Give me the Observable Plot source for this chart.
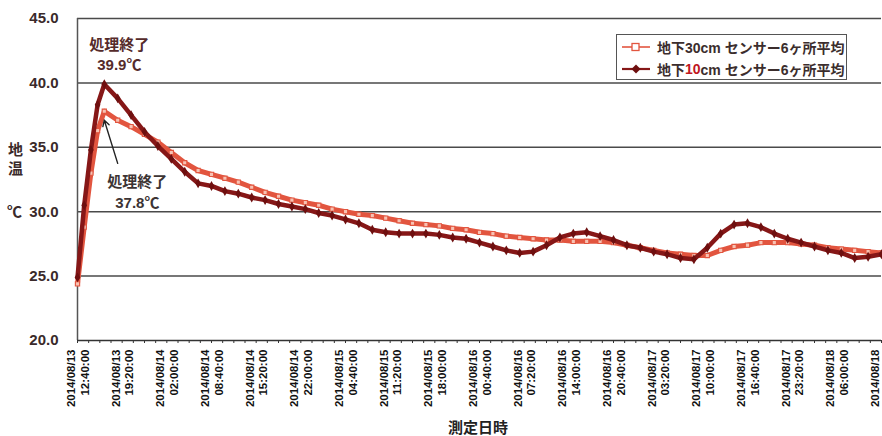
<!DOCTYPE html>
<html>
<head>
<meta charset="utf-8">
<script src="https://cdn.jsdelivr.net/npm/d3@7"></script>
<script src="https://cdn.jsdelivr.net/npm/@observablehq/plot@0.6"></script>
<style>
  body { margin: 0; background: #fff; }
  #wrap { position: relative; width: 882px; height: 436px; overflow: hidden; background: #fff;
          font-family: "Liberation Sans", "Noto Sans CJK JP", sans-serif; }
  .ylab { position: absolute; font-weight: bold; font-size: 15px; color: #3a2a2a;
          font-family: "Noto Sans CJK JP", sans-serif; line-height: 15px; }
  .xlab { position: absolute; font-weight: bold; font-size: 15px; color: #222; line-height: 15px;
          font-family: "Noto Sans CJK JP", sans-serif; }
  #legend { position: absolute; left: 616px; top: 34px; width: 229px; height: 44px;
            border: 1.5px solid #555; background: #fff; }
  .row { position: absolute; left: 4px; height: 20px; display: flex; align-items: center;
         font-weight: bold; font-size: 14px; color: #3b2d2d; white-space: nowrap;
         font-family: "Liberation Sans", "Noto Sans CJK JP", sans-serif; }
  .row svg { margin-right: 6px; }
  .red { color: #c0161e; }
</style>
</head>
<body>
<div id="wrap"></div>
<script>
// ---- data ----
const startLabel = "2014/08/13 12:40:00";
const hoursFromStart = [0, 1, 2, 3, 4,
  6, 8, 10, 12, 14, 16, 18, 20, 22, 24, 26, 28, 30, 32, 34, 36, 38, 40,
  42, 44, 46, 48, 50, 52, 54, 56, 58, 60, 62, 64, 66, 68, 70, 72, 74, 76, 78, 80,
  82, 84, 86, 88, 90, 92, 94, 96, 98, 100, 102, 104, 106, 108, 110, 112, 114, 116, 118, 120];
const depth30 = [24.4, 28.8, 33.0, 36.3, 37.8,
  37.1, 36.6, 36.0, 35.4, 34.6, 33.8, 33.2, 32.9, 32.6, 32.3, 31.9, 31.5, 31.2, 30.9, 30.7, 30.5, 30.2, 30.0,
  29.8, 29.7, 29.5, 29.3, 29.1, 29.0, 28.9, 28.7, 28.6, 28.4, 28.3, 28.1, 28.0, 27.9, 27.8, 27.8, 27.7, 27.7, 27.7, 27.6,
  27.4, 27.2, 27.0, 26.8, 26.7, 26.6, 26.6, 27.0, 27.3, 27.4, 27.6, 27.6, 27.6, 27.5, 27.4, 27.2, 27.1, 27.0, 26.9, 26.8];
const depth10 = [24.9, 30.5, 34.8, 38.3, 39.9,
  38.8, 37.5, 36.2, 35.1, 34.1, 33.1, 32.2, 32.0, 31.6, 31.4, 31.1, 30.9, 30.6, 30.4, 30.2, 29.9, 29.7, 29.4,
  29.1, 28.6, 28.4, 28.3, 28.3, 28.3, 28.2, 28.0, 27.9, 27.6, 27.3, 27.0, 26.8, 26.9, 27.4, 28.0, 28.3, 28.4, 28.1, 27.8,
  27.4, 27.2, 26.9, 26.7, 26.4, 26.3, 27.2, 28.3, 29.0, 29.1, 28.8, 28.3, 27.9, 27.6, 27.3, 27.0, 26.8, 26.4, 26.5, 26.7];
const xTickLabels = [
  "2014/08/13 12:40:00", "2014/08/13 19:20:00", "2014/08/14 02:00:00", "2014/08/14 08:40:00",
  "2014/08/14 15:20:00", "2014/08/14 22:00:00", "2014/08/15 04:40:00", "2014/08/15 11:20:00",
  "2014/08/15 18:00:00", "2014/08/16 00:40:00", "2014/08/16 07:20:00", "2014/08/16 14:00:00",
  "2014/08/16 20:40:00", "2014/08/17 03:20:00", "2014/08/17 10:00:00", "2014/08/17 16:40:00",
  "2014/08/17 23:20:00", "2014/08/18 06:00:00", "2014/08/18 12:40:00"];
const yTicks = [20, 25, 30, 35, 40, 45];
const seriesNames = ["地下30cm センサー6ヶ所平均", "地下10cm センサー6ヶ所平均"];
const peakLabels = ["処理終了\n37.8℃", "処理終了\n39.9℃"];
const yTitle = ["地", "温", "℃"];
const xTitle = "測定日時";

// ---- helpers ----
function parseLabel(s) {
  const [d, t] = s.split(" ");
  const [Y, M, D] = d.split("/").map(Number);
  const [h, m, sec] = t.split(":").map(Number);
  return new Date(Date.UTC(Y, M - 1, D, h, m, sec));
}
const t0 = parseLabel(startLabel);
const toTime = h => new Date(+t0 + h * 3600e3);
const xTicks = xTickLabels.map(parseLabel);
const minorTicks = d3.range(0, 121, 100 / 60).map(toTime);
const labelOf = new Map(xTicks.map((d, i) => [+d, xTickLabels[i].replace(" ", "\n")]));

const rows30 = hoursFromStart.map((h, i) => ({t: toTime(h), v: depth30[i]}));
const rows10 = hoursFromStart.map((h, i) => ({t: toTime(h), v: depth10[i]}));
const p30 = rows30[d3.maxIndex(rows30, d => d.v)];
const p10 = rows10[d3.maxIndex(rows10, d => d.v)];

const c30 = "#e2553f", c30fill = "#f7c2b3";
const c10 = "#861717";

const chart = Plot.plot({
  width: 882, height: 436,
  marginLeft: 77, marginRight: 1, marginTop: 18, marginBottom: 96,
  style: {fontFamily: "Liberation Sans, Arial, sans-serif", background: "white", overflow: "visible"},
  x: {type: "utc", domain: [xTicks[0], xTicks[xTicks.length - 1]]},
  y: {domain: [20, 45]},
  marks: [
    Plot.gridY(yTicks.slice(1), {stroke: "#4a4a4a", strokeOpacity: 1, strokeWidth: 1.5}),
    Plot.ruleX([xTicks[0]], {stroke: "#555", strokeWidth: 1.5}),
    Plot.ruleY([20], {stroke: "#333", strokeWidth: 1.5}),
    Plot.axisY({ticks: yTicks, tickFormat: d => d.toFixed(1), tickSize: 0, tickPadding: 19,
      fontSize: 15, fontWeight: "bold", fill: "#3a2a2a", label: null}),
    Plot.axisX({ticks: minorTicks, tickSize: 3, tickFormat: () => "", stroke: "#333", label: null}),
    Plot.axisX({ticks: xTicks, tickFormat: d => labelOf.get(+d), tickSize: 0, tickPadding: 9,
      tickRotate: -90, textAnchor: "end", lineAnchor: "middle", lineHeight: 1.2,
      fontSize: 11.5, fontWeight: "bold", fill: "#111", label: null}),
    // 30cm series
    Plot.line(rows30, {x: "t", y: "v", stroke: c30, strokeWidth: 5}),
    Plot.dot(rows30, {x: "t", y: "v", symbol: "square", r: 2.4, stroke: c30, strokeWidth: 1.1, fill: c30fill}),
    // 10cm series
    Plot.line(rows10, {x: "t", y: "v", stroke: c10, strokeWidth: 4.5}),
    Plot.dot(rows10, {x: "t", y: "v", symbol: "diamond", r: 3, fill: "#6e0f0f"}),
    // annotations
    Plot.text([p10], {x: "t", y: "v", text: () => peakLabels[1], dx: 15, dy: -14, lineAnchor: "bottom",
      lineHeight: 1.35, fontSize: 15, fontWeight: "bold", fill: "#552b2b",
      fontFamily: "Liberation Sans, Noto Sans CJK JP, sans-serif"}),
    Plot.text([p30], {x: "t", y: "v", text: () => peakLabels[0], dx: 33, dy: 61, lineAnchor: "top",
      lineHeight: 1.4, fontSize: 15, fontWeight: "bold", fill: "#3c3434",
      fontFamily: "Liberation Sans, Noto Sans CJK JP, sans-serif"}),
    Plot.arrow([p30], {x1: d => new Date(+d.t + 2 * 3600e3), y1: d => d.v - 4.05,
      x2: "t", y2: d => d.v - 0.7, stroke: "#222", strokeWidth: 1.4, headLength: 7})
  ]
});

const wrap = document.getElementById("wrap");
wrap.appendChild(chart);

// y-axis title (stacked characters)
[[8, 141], [8, 160], [7, 203]].forEach(([left, top], i) => {
  const el = document.createElement("div");
  el.className = "ylab";
  el.style.left = left + "px"; el.style.top = top + "px";
  el.textContent = yTitle[i];
  wrap.appendChild(el);
});

// x-axis title
const xl = document.createElement("div");
xl.className = "xlab"; xl.style.left = "448px"; xl.style.top = "419px";
xl.textContent = xTitle;
wrap.appendChild(xl);

// legend
const legend = document.createElement("div");
legend.id = "legend";
const sym30 = `<svg width="30" height="12"><line x1="1" x2="29" y1="6" y2="6" stroke="${c30}" stroke-width="1.6"/><rect x="11" y="2.5" width="7" height="7" fill="#fff" stroke="${c30}" stroke-width="1.3"/></svg>`;
const sym10 = `<svg width="30" height="12"><line x1="1" x2="29" y1="6" y2="6" stroke="${c10}" stroke-width="2.2"/><path d="M15,1.5L19.5,6L15,10.5L10.5,6Z" fill="#6e0f0f"/></svg>`;
const name10 = seriesNames[1].replace("10", '<span class="red">10</span>');
legend.innerHTML =
  `<div class="row" style="top:2px">${sym30}${seriesNames[0]}</div>` +
  `<div class="row" style="top:24px">${sym10}${name10}</div>`;
wrap.appendChild(legend);
</script>
</body>
</html>
